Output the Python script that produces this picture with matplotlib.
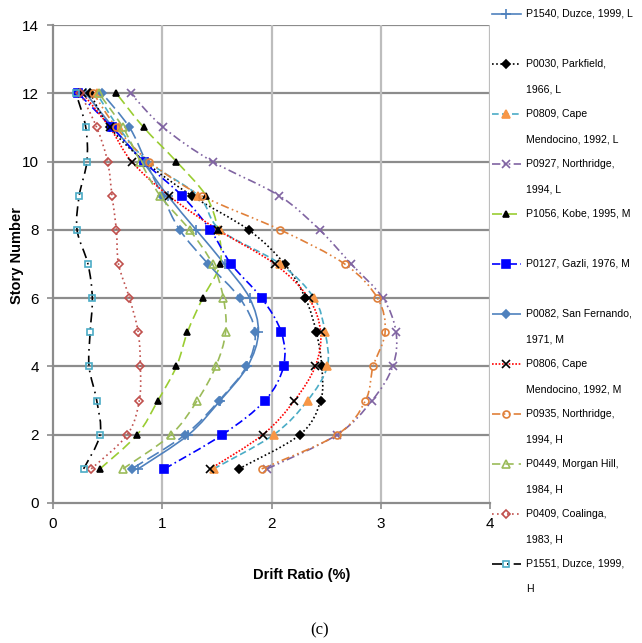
import matplotlib
matplotlib.use('Agg')
import matplotlib.pyplot as plt
from matplotlib.path import Path
from matplotlib.patches import PathPatch
from matplotlib.lines import Line2D

plt.rcParams['font.family'] = ['Liberation Sans Narrow', 'Liberation Sans', 'DejaVu Sans']

stories = [1, 2, 3, 4, 5, 6, 7, 8, 9, 10, 11, 12]

labels = [
    ['P1540, Duzce, 1999, L'],
    ['P0030, Parkfield,', '1966, L'],
    ['P0809, Cape', 'Mendocino, 1992, L'],
    ['P0927, Northridge,', '1994, L'],
    ['P1056, Kobe, 1995, M'],
    ['P0127, Gazli, 1976, M'],
    ['P0082, San Fernando,', '1971, M'],
    ['P0806, Cape', 'Mendocino, 1992, M'],
    ['P0935, Northridge,', '1994, H'],
    ['P0449, Morgan Hill,', '1984, H'],
    ['P0409, Coalinga,', '1983, H'],
    ['P1551, Duzce, 1999,', 'H'],
]

# drift ratio (%) for stories 1..12
p1540 = [0.78, 1.24, 1.53, 1.78, 1.88, 1.80, 1.57, 1.31, 1.05, 0.82, 0.55, 0.30]
p0030 = [1.70, 2.26, 2.45, 2.46, 2.41, 2.31, 2.12, 1.79, 1.27, 0.84, 0.52, 0.34]
p0809 = [1.47, 2.02, 2.33, 2.51, 2.49, 2.39, 2.08, 1.53, 1.33, 0.87, 0.60, 0.40]
p0927 = [1.96, 2.60, 2.92, 3.11, 3.14, 3.02, 2.73, 2.44, 2.07, 1.46, 1.01, 0.71]
p1056 = [0.43, 0.77, 0.96, 1.13, 1.23, 1.37, 1.53, 1.51, 1.40, 1.13, 0.83, 0.58]
p0127 = [1.02, 1.55, 1.94, 2.11, 2.09, 1.91, 1.63, 1.44, 1.18, 0.83, 0.54, 0.23]
p0082 = [0.72, 1.21, 1.52, 1.77, 1.85, 1.71, 1.42, 1.16, 1.00, 0.85, 0.70, 0.45]
p0806 = [1.44, 1.92, 2.21, 2.40, 2.45, 2.34, 2.03, 1.51, 1.06, 0.72, 0.52, 0.27]
p0935 = [1.91, 2.60, 2.86, 2.93, 3.04, 2.97, 2.67, 2.08, 1.36, 0.88, 0.58, 0.37]
p0449 = [0.64, 1.08, 1.32, 1.49, 1.58, 1.56, 1.46, 1.25, 0.98, 0.80, 0.64, 0.42]
p0409 = [0.35, 0.68, 0.79, 0.80, 0.78, 0.70, 0.60, 0.58, 0.54, 0.50, 0.40, 0.25]
p1551 = [0.28, 0.43, 0.40, 0.33, 0.34, 0.36, 0.32, 0.22, 0.24, 0.31, 0.30, 0.21]

series = [p1540, p0030, p0809, p0927, p1056, p0127, p0082, p0806, p0935, p0449, p0409, p1551]

# (line colour, dash, marker, marker face, marker edge, marker size)
styles = [
    ('#4F81BD', '-', '+', '#4F81BD', '#4F81BD', 7),
    ('#000000', (0, (1, 1.5)), 'D', '#000000', '#000000', 4.5),
    ('#4BACC6', (0, (4, 2)), '^', '#F79646', '#F79646', 5.5),
    ('#8064A2', (0, (5, 2, 1, 2, 1, 2)), 'x', '#8064A2', '#8064A2', 5.5),
    ('#9ACD32', (0, (6, 3)), '^', '#000000', '#000000', 4),
    ('#0000FF', (0, (5, 2, 1, 2)), 's', '#0000FF', '#0000FF', 5.5),
    ('#4F81BD', (0, (8, 3)), 'D', '#4F81BD', '#4F81BD', 4.5),
    ('#FF0000', (0, (1, 1)), 'x', '#000000', '#000000', 5.5),
    ('#E0803A', (0, (5, 2, 1, 2, 1, 2)), 'o', 'none', '#E0803A', 5),
    ('#9BBB59', (0, (5, 3)), '^', 'none', '#9BBB59', 6),
    ('#C0504D', (0, (1, 2)), 'D', 'none', '#C0504D', 4.5),
    ('#000000', (0, (6, 3, 1, 3)), 's', 'none', '#4BACC6', 4.5),
]


def smooth_path(xs, ys):
    # Excel-like smoothed line: cubic Bezier through the points
    pts = list(zip(xs, ys))
    verts = [pts[0]]
    codes = [Path.MOVETO]
    n = len(pts)
    for i in range(n - 1):
        p0 = pts[max(i - 1, 0)]
        p1 = pts[i]
        p2 = pts[i + 1]
        p3 = pts[min(i + 2, n - 1)]
        c1 = (p1[0] + (p2[0] - p0[0]) / 6, p1[1] + (p2[1] - p0[1]) / 6)
        c2 = (p2[0] - (p3[0] - p1[0]) / 6, p2[1] - (p3[1] - p1[1]) / 6)
        verts += [c1, c2, p2]
        codes += [Path.CURVE4] * 3
    return Path(verts, codes)


W, H = 642, 643
fig = plt.figure(figsize=(W / 100, H / 100), dpi=100)
ax = fig.add_axes([53 / W, 1 - 503 / H, (490 - 53) / W, (503 - 25) / H])

ax.set_xlim(0, 4)
ax.set_ylim(0, 14)
ax.set_xticks([0, 1, 2, 3, 4])
ax.set_yticks([0, 2, 4, 6, 8, 10, 12, 14])
for y in [2, 4, 6, 8, 10, 12, 14]:
    ax.axhline(y, color='#8C8C8C', lw=1.6, zorder=0)
for x in [1, 2, 3, 4]:
    ax.axvline(x, color='#BDBDBD', lw=1.6, zorder=0)
for s in ['top', 'right']:
    ax.spines[s].set_visible(False)
for s in ['left', 'bottom']:
    ax.spines[s].set_color('#8C8C8C')
    ax.spines[s].set_linewidth(1.6)
ax.tick_params(axis='both', direction='out', length=4, width=1.2, color='#8C8C8C',
               labelsize=11, pad=6)

for vals, (col, ls, mk, mfc, mec, ms) in zip(series, styles):
    ax.add_patch(PathPatch(smooth_path(vals, stories), fill=False, edgecolor=col,
                           linestyle=ls, lw=1.2, zorder=2))
    ax.plot(vals, stories, linestyle='none', marker=mk, mfc=mfc, mec=mec, ms=ms,
            mew=1.2, zorder=3, clip_on=False)

fig.text(302 / W, 1 - 575 / H, 'Drift Ratio (%)', fontsize=10.5, fontweight='bold',
         ha='center', va='center')
fig.text(17 / W, 1 - 255 / H, 'Story Number', fontsize=10.5, fontweight='bold',
         ha='center', va='center', rotation=90)
fig.text(320 / W, 1 - 630 / H, '(c)', fontsize=12, ha='center', va='center',
         family=['Liberation Serif', 'DejaVu Serif'])

# legend drawn at the right, one entry every 50 px
for i, ((col, ls, mk, mfc, mec, ms), lab) in enumerate(zip(styles, labels)):
    yp = 14 + 50 * i
    yf = 1 - yp / H
    fig.add_artist(Line2D([492 / W, 521 / W], [yf, yf], transform=fig.transFigure,
                          color=col, linestyle=ls, lw=1.2))
    fig.add_artist(Line2D([506 / W], [yf], transform=fig.transFigure, linestyle='none',
                          marker=mk, mfc=mfc, mec=mec, ms=ms, mew=1.2))
    for j, line in enumerate(lab):
        fig.text(526 / W, 1 - (yp + 25 * j) / H, line, fontsize=7.6, ha='left',
                 va='center')

fig.savefig('out.png', dpi=100)
